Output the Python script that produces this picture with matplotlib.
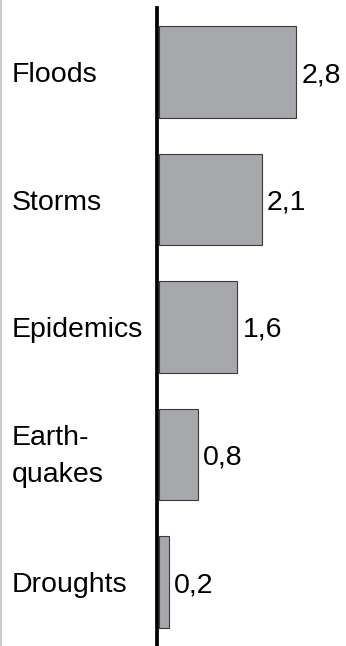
import matplotlib.pyplot as plt
from matplotlib.lines import Line2D
from matplotlib.transforms import blended_transform_factory

categories = ["Floods", "Storms", "Epidemics", "Earth-\nquakes", "Droughts"]
values = [2.8, 2.1, 1.6, 0.8, 0.2]
value_labels = ["2,8", "2,1", "1,6", "0,8", "0,2"]

plt.rcParams['font.family'] = ['Liberation Sans', 'DejaVu Sans']

W, H, DPI = 346, 646, 100
fig = plt.figure(figsize=(W / DPI, H / DPI), dpi=DPI)

# axes spans from the bar base to the right edge, full height
x0 = 159
px_per_unit = 49.0
ax = fig.add_axes([x0 / W, 0, 1 - x0 / W, 1])
ax.set_xlim(0, (W - x0) / px_per_unit)
step = 127.5
first = 72
ax.set_ylim((H - first) / step, -first / step)

ypos = list(range(len(categories)))
ax.barh(ypos, values, height=0.72, color="#a7a8ab",
        edgecolor="#3a3a3a", linewidth=0.8)

for s in ["top", "right", "bottom"]:
    ax.spines[s].set_visible(False)
ax.spines["left"].set_position(("outward", 1.5))
ax.spines["left"].set_linewidth(2.7)
ax.spines["left"].set_bounds(ax.get_ylim()[0], (8 - first) / step)
ax.set_xticks([])
ax.set_yticks([])
ax.patch.set_visible(False)

fs = 20.5
lab_tr = blended_transform_factory(fig.transFigure, ax.transData)
for y, name in zip(ypos, categories):
    if "\n" in name:
        ax.annotate(name, (12 / W, y), xycoords=lab_tr,
                    xytext=(0, -2), textcoords="offset pixels",
                    fontsize=fs, ha="left", va="center", linespacing=1.52)
    else:
        ax.annotate(name, (12 / W, y), xycoords=lab_tr,
                    xytext=(0, -10), textcoords="offset pixels",
                    fontsize=fs, ha="left", va="baseline")

for y, v, lab in zip(ypos, values, value_labels):
    ax.annotate(lab, (v, y), xytext=(5, -10), textcoords="offset pixels",
                fontsize=fs, ha="left", va="baseline")

# thin grey frame line on the left edge
fig.add_artist(Line2D([0.5 / W, 0.5 / W], [0, 1], transform=fig.transFigure,
                      color="#c4c4c4", linewidth=1.2))

fig.savefig("out.png", dpi=DPI)
